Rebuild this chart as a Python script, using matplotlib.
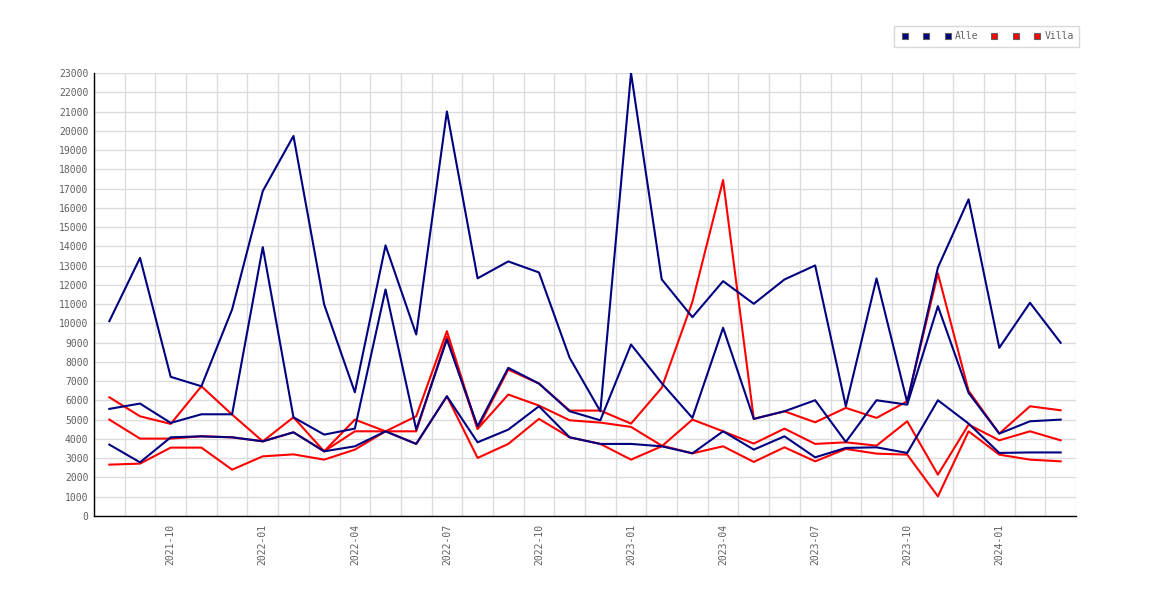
import numpy as np
import pandas as pd
import matplotlib
matplotlib.use('Agg')
from matplotlib import pyplot as plt
from matplotlib.lines import Line2D

# Monate (2021-08 bis 2024-03)
months = [p.strftime('%Y-%m') for p in pd.period_range('2021-08', '2024-03', freq='M')]

# Alle
alle_1 = [10115, 13400, 7225, 6736, 10723, 16870, 19730, 10982, 6425, 14050, 9423, 21000,
          12340, 13217, 12645, 8212, 5437, 23000, 12287, 10322, 12194, 11018, 12280, 13009,
          5697, 12335, 5900, 12900, 16440, 8732, 11071, 8992]
alle_2 = [5561, 5837, 4833, 5281, 5281, 13960, 5125, 4225, 4537, 11762, 4485, 9163,
          4658, 7692, 6876, 5437, 4970, 8903, 6900, 5093, 9771, 5042, 5437, 6010,
          3846, 6010, 5780, 10894, 6393, 4278, 4917, 5005]
alle_3 = [3706, 2786, 4085, 4137, 4085, 3877, 4345, 3358, 3618, 4397, 3742, 6216,
          3826, 4485, 5697, 4085, 3742, 3742, 3618, 3254, 4397, 3446, 4137, 3046,
          3534, 3566, 3274, 6010, 4797, 3274, 3300, 3300]

# Villa
villa_1 = [6164, 5177, 4781, 6736, 5265, 3877, 5125, 3358, 5005, 4397, 5177, 9596,
           4522, 7604, 6876, 5473, 5473, 4797, 6653, 11120, 17443, 5042, 5437, 4865,
           5613, 5093, 5956, 12591, 6500, 4278, 5697, 5489]
villa_2 = [5005, 4018, 4018, 4137, 4085, 3877, 4345, 3358, 4397, 4397, 4397, 9300,
           4522, 6305, 5733, 4969, 4850, 4625, 3654, 3254, 3618, 2807, 3566, 2838,
           3482, 3238, 3186, 1019, 4397, 3186, 2926, 2838]
villa_3 = [2666, 2720, 3550, 3550, 2406, 3098, 3200, 2926, 3446, 4397, 3742, 6216,
           3015, 3742, 5042, 4085, 3742, 2926, 3618, 5005, 4397, 3758, 4537, 3742,
           3826, 3654, 4917, 2147, 4745, 3930, 4397, 3930]

tick_idx = [2, 5, 8, 11, 14, 17, 20, 23, 26, 29]

NAVY = '#000080'
RED = '#ff0000'
GRID = '#dcdcdc'
TXT = '#606060'

plt.rcParams['font.family'] = ['DejaVu Sans Mono']

fig = plt.figure(figsize=(11.7, 6), dpi=100)
ax = fig.add_axes([94 / 1170, 84 / 600, 982 / 1170, 443 / 600])

x = np.arange(len(months))

# Villa unten, Alle oben
for ys in (villa_1, villa_2, villa_3):
    ax.plot(x, ys, color=RED, lw=1.5, zorder=3)
for ys in (alle_1, alle_2, alle_3):
    ax.plot(x, ys, color=NAVY, lw=1.5, zorder=4)

ax.set_xlim(-0.5, len(months) - 0.5)
ax.set_ylim(0, 23000)
ax.set_yticks(np.arange(0, 23001, 1000))
ax.set_xticks(tick_idx)
ax.set_xticklabels([months[i] for i in tick_idx], rotation=90)
ax.set_xticks(np.arange(-0.5, len(months), 1), minor=True)

ax.grid(which='minor', axis='x', color=GRID, lw=1)
ax.grid(which='major', axis='y', color=GRID, lw=1)
ax.set_axisbelow(True)

ax.tick_params(which='both', length=0)
ax.tick_params(axis='y', pad=4, labelsize=7, labelcolor=TXT)
ax.tick_params(axis='x', pad=6, labelsize=7, labelcolor=TXT)

for s in ('top', 'right'):
    ax.spines[s].set_visible(False)
for s in ('left', 'bottom'):
    ax.spines[s].set_color('black')
    ax.spines[s].set_linewidth(1)

# Legende
handles = []
for c in (NAVY, NAVY, NAVY, RED, RED, RED):
    handles.append(Line2D([], [], ls='none', marker='s', markersize=5,
                          markerfacecolor=c, markeredgecolor='#606060', markeredgewidth=0.8))
labels = ['', '', 'Alle', '', '', 'Villa']
leg = fig.legend(handles, labels, ncol=6, loc='upper right',
                 bbox_to_anchor=(1079 / 1170, 1 - 26 / 600),
                 fontsize=7, frameon=True, fancybox=False,
                 handlelength=1.1, handletextpad=0.15, columnspacing=1.0,
                 borderpad=0.55, borderaxespad=0)
leg.get_frame().set_edgecolor('#d0d0d0')
leg.get_frame().set_linewidth(1)
for t in leg.get_texts():
    t.set_color(TXT)

fig.savefig('out.png', dpi=100)
plt.close()
